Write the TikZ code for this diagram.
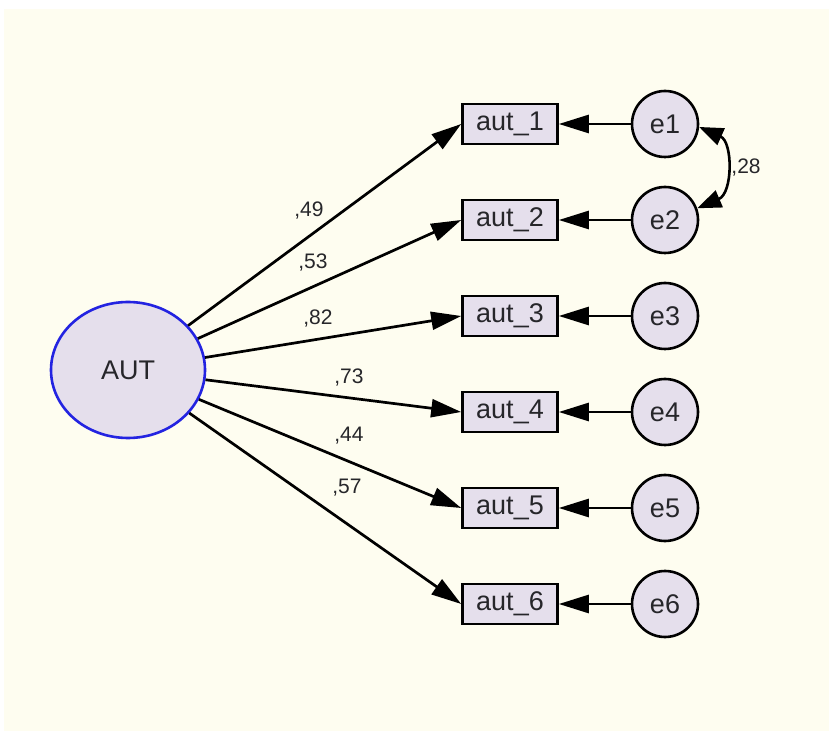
\documentclass[tikz,border=0pt]{standalone}
\usepackage{fontspec}
\setmainfont{Liberation Sans}
\usetikzlibrary{arrows.meta,shapes.geometric}
\definecolor{bgcream}{RGB}{254,253,240}
\definecolor{nodefill}{RGB}{229,223,236}
\definecolor{latentblue}{RGB}{35,35,225}
\definecolor{inktext}{RGB}{38,38,42}
\begin{document}
\begin{tikzpicture}[x=0.5pt,y=-0.5pt,
	latent/.style={ellipse,draw=latentblue,line width=1.3pt,fill=nodefill,minimum width=77pt,minimum height=68pt,inner sep=0pt,text=inktext},
	observed/.style={draw,line width=1.3pt,fill=nodefill,minimum width=47.5pt,minimum height=20pt,inner sep=0pt,text=inktext},
	errvar/.style={circle,draw,line width=1.3pt,fill=nodefill,minimum size=33pt,inner sep=0pt,text=inktext},
	loading/.style={line width=1.35pt,-{Triangle[length=15pt,width=9pt]}},
	covpath/.style={line width=1.3pt,{Triangle[length=12pt,width=9pt]}-{Triangle[length=12pt,width=9pt]}},
	weight/.style={inner sep=0pt,text=inktext}
	]
			\newcommand{\mynodefont}[1]{
				\fontsize{13.5}{15}\selectfont{#1}
			}\newcommand{\myweightfont}[1]{
				\fontsize{10.5}{12}\selectfont{#1}
			}%Canvas
			\fill[white] (0,0) rectangle (829,731);
			\fill[bgcream] (4,9) rectangle (829,731);
			\useasboundingbox (0,0) rectangle (829,731);
			%The latent variable
			\coordinate (centerAUT) at (128,370);
			\node [latent] (AUT) at (centerAUT) {\mynodefont{AUT}};
			%Items and their errors
			\foreach \i/\y in {1/124,2/220,3/316,4/412,5/508,6/604} {
				\node [observed] (aut\i) at (510,\y) {\mynodefont{aut\_\i}};
				\node [errvar] (e\i) at (665,\y) {\mynodefont{e\i}};
				\draw [loading] (e\i) -- (aut\i);
			}
			%Loadings from AUT to the items
			\draw [loading] (AUT) -- (aut1.west);
			\draw [loading] (AUT) -- (aut2.west);
			\draw [loading] (AUT) -- (aut3.west);
			\draw [loading] (AUT) -- (aut4.west);
			\draw [loading] (AUT) -- (aut5.west);
			\draw [loading] (AUT) -- (aut6.west);
			%Standardized weights
			\node [weight] (w1) at (309,211) {\myweightfont{,49}};
			\node [weight] (w2) at (313,263) {\myweightfont{,53}};
			\node [weight] (w3) at (318,319) {\myweightfont{,82}};
			\node [weight] (w4) at (349,378) {\myweightfont{,73}};
			\node [weight] (w5) at (349,436) {\myweightfont{,44}};
			\node [weight] (w6) at (347,488) {\myweightfont{,57}};
			%Covariance of e1 and e2
			\draw [covpath] (e1.-5) .. controls (733,142) and (733,193) .. (e2.20);
			\node [weight] (cov12) at (746,168) {\myweightfont{,28}};
\end{tikzpicture}
\end{document}
